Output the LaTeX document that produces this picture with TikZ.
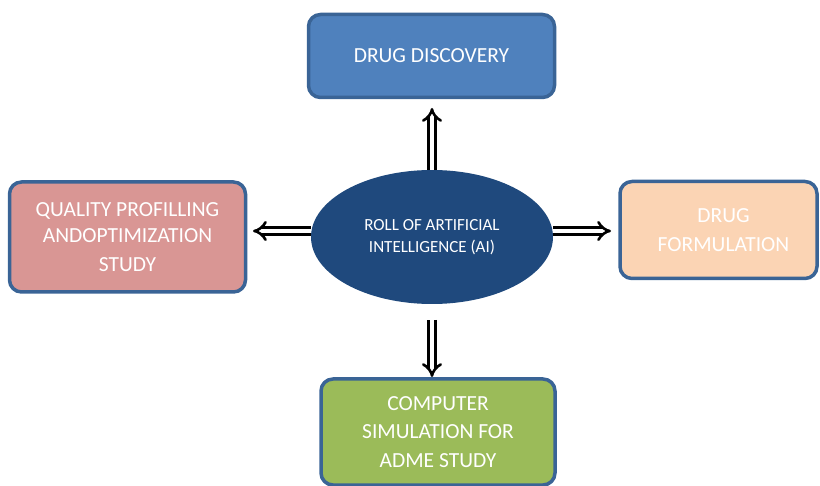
\documentclass[tikz,border=0pt]{standalone}
\usepackage{fontspec}
\setmainfont{Carlito}
\usetikzlibrary{arrows.meta,shapes.geometric}
\definecolor{bordc}{HTML}{3A6496}
\definecolor{discc}{HTML}{4F81BD}
\definecolor{aic}{HTML}{1F497D}
\definecolor{qualc}{HTML}{D99694}
\definecolor{formc}{HTML}{FBD4B4}
\definecolor{compc}{HTML}{9BBB59}
\tikzset{
  x=1pt, y=-1pt,
  boxst/.style={draw=bordc, line width=3.5pt, rounded corners=12pt, text=white,
    align=center, inner sep=0pt, font=\fontsize{21.5}{28.5}\selectfont},
  ellst/.style={ellipse, fill=aic, draw=none, text=white, align=center, inner sep=0pt,
    font=\fontsize{17}{22}\selectfont},
  arr/.style={double=white, double distance=4pt, line width=2.6pt, -{Implies[length=9pt, width=20pt]}, draw=black}
}
\begin{document}
\begin{tikzpicture}
\useasboundingbox (0,0) rectangle (820,486);
\node[boxst, fill=discc, minimum width=246pt, minimum height=83pt] (disc) at (431.5,56) {DRUG DISCOVERY};
\node[ellst, minimum width=242pt, minimum height=134pt] (ai) at (432,237) {ROLL OF ARTIFICIAL\\INTELLIGENCE (AI)};
\node[boxst, fill=qualc, minimum width=236pt, minimum height=110pt] (qual) at (127.5,237) {\raisebox{-2pt}{QUALITY PROFILLING}\\ANDOPTIMIZATION\\STUDY};
\node[boxst, fill=formc, minimum width=197pt, minimum height=97pt] (form) at (718.5,230) {\hspace*{10pt}DRUG\\\hspace*{10pt}FORMULATION};
\node[boxst, fill=compc, minimum width=234pt, minimum height=106pt] (comp) at (438,432) {COMPUTER\\SIMULATION FOR\\ADME STUDY};
\coordinate (upend) at (432,108);
\coordinate (leftend) at (253,231);
\coordinate (rightend) at (611,231);
\coordinate (downstart) at (432,320);
\coordinate (downend) at (432,377);
\draw[arr] (ai.north) -- (upend);
\draw[arr] (ai.west |- leftend) -- (leftend);
\draw[arr] (ai.east |- rightend) -- (rightend);
\draw[arr] (downstart) -- (downend);
\end{tikzpicture}
\end{document}
